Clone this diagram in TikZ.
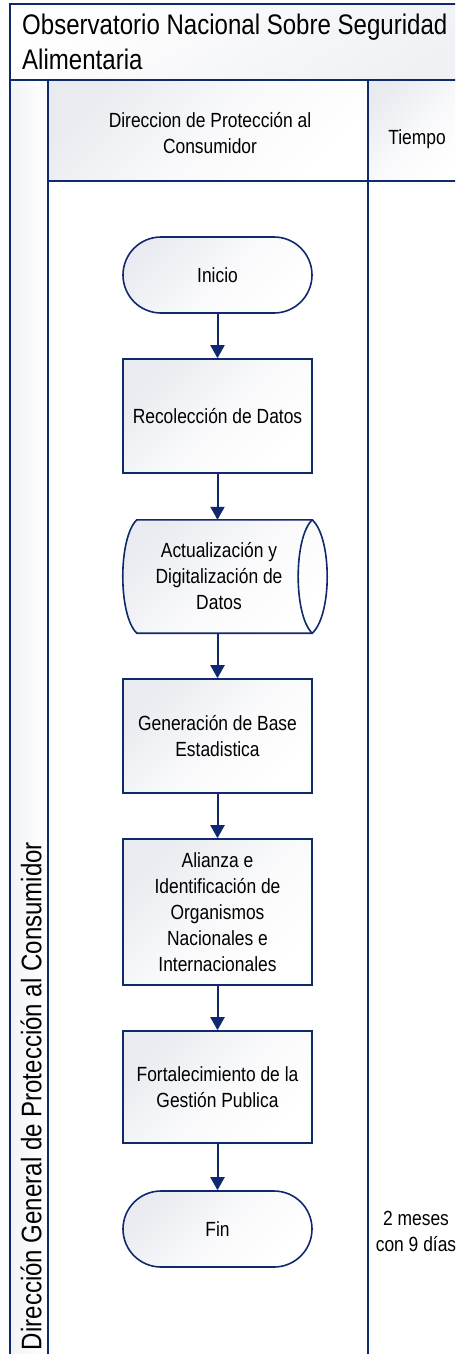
\documentclass[tikz,border=0pt]{standalone}
\usepackage{fontspec}
\setmainfont{Liberation Sans}[FakeStretch=0.85]
\usetikzlibrary{arrows.meta}
\definecolor{navy}{RGB}{16,40,108}
\definecolor{shadegray}{RGB}{233,235,240}
\tikzset{
  grad/.style={top color=shadegray, bottom color=white, middle color=white!70!shadegray, shading angle=45},
  body/.style={font=\fontsize{20.5}{26}\selectfont, align=center, text=black},
  proc/.style={draw=navy, line width=1.6pt, grad, rectangle, minimum width=189pt, inner sep=0pt, body},
  term/.style={proc, rounded corners=38pt, minimum height=76pt},
  conn/.style={draw=navy, line width=2pt, -{Triangle[width=14pt,length=13pt]}},
  frame/.style={draw=navy, line width=1.6pt}
}
\begin{document}
\begin{tikzpicture}[x=1pt,y=-1pt]
\useasboundingbox (0,0) rectangle (455,1354);
\clip (0,0) rectangle (455,1354);
% title band
\path[top color=white, bottom color=shadegray!70, shading angle=30] (10,4) rectangle (470,80);
% left lane
\path[left color=shadegray!60, right color=white] (10,80) rectangle (48,1370);
% header cells
\path[grad] (48,80) rectangle (368,181);
\path[grad] (368,80) rectangle (470,181);
% frame lines
\draw[frame] (470,4) -- (10,4) -- (10,1370);
\draw[frame] (10,80) -- (470,80);
\draw[frame] (48,80) -- (48,1370);
\draw[frame] (48,181) -- (470,181);
\draw[frame] (368,80) -- (368,1370);
% texts of frame
\node[anchor=west, align=left, font=\fontsize{28.3}{35}\selectfont, inner sep=0pt] (title) at (22,42) {Observatorio Nacional Sobre Seguridad\\Alimentaria};
\node[rotate=90, font=\fontsize{28.3}{35}\selectfont, inner sep=0pt] (lane) at (31,1096) {Dirección General de Protección al Consumidor};
\node[body] (hdr1) at (210,133) {Direccion de Protección al\\Consumidor};
\node[body] (hdr2) at (417,139) {Tiempo};
\node[body] (time) at (416,1231) {2 meses\\con 9 días};
% flow nodes
\node[term] (ini) at (217.5,275) {Inicio};
\node[proc, minimum height=114pt] (rec) at (217.5,416) {Recolección de Datos};
\node[rectangle, minimum width=189pt, minimum height=113pt, inner sep=0pt] (act) at (217.5,576.5) {};
\path[draw=navy, line width=1.6pt, grad]
  ([xshift=14pt]act.north west) -- (act.north east)
  .. controls ([xshift=20pt,yshift=-18pt]act.north east) and ([xshift=20pt,yshift=18pt]act.south east) .. (act.south east)
  -- ([xshift=14pt]act.south west)
  .. controls ([xshift=-4.7pt,yshift=18pt]act.south west) and ([xshift=-4.7pt,yshift=-18pt]act.north west) .. ([xshift=14pt]act.north west) -- cycle;
\draw[navy, line width=1.6pt] (act.north east)
  .. controls ([xshift=-18.7pt,yshift=-18pt]act.north east) and ([xshift=-18.7pt,yshift=18pt]act.south east) .. (act.south east);
\node[body] (acttext) at (219,576.5) {Actualización y\\Digitalización de\\Datos};
\node[proc, minimum height=114pt] (gen) at (217.5,736) {Generación de Base\\Estadistica};
\node[proc, minimum height=146pt] (ali) at (217.5,912) {Alianza e\\Identificación de\\Organismos\\Nacionales e\\Internacionales};
\node[proc, minimum height=112pt] (fort) at (217.5,1087) {Fortalecimiento de la\\Gestión Publica};
\node[term] (fin) at (217.5,1229) {Fin};
% connectors
\draw[conn] (ini) -- (rec);
\draw[conn] (rec) -- (act);
\draw[conn] (act) -- (gen);
\draw[conn] (gen) -- (ali);
\draw[conn] (ali) -- (fort);
\draw[conn] (fort) -- (fin);
\end{tikzpicture}
\end{document}
